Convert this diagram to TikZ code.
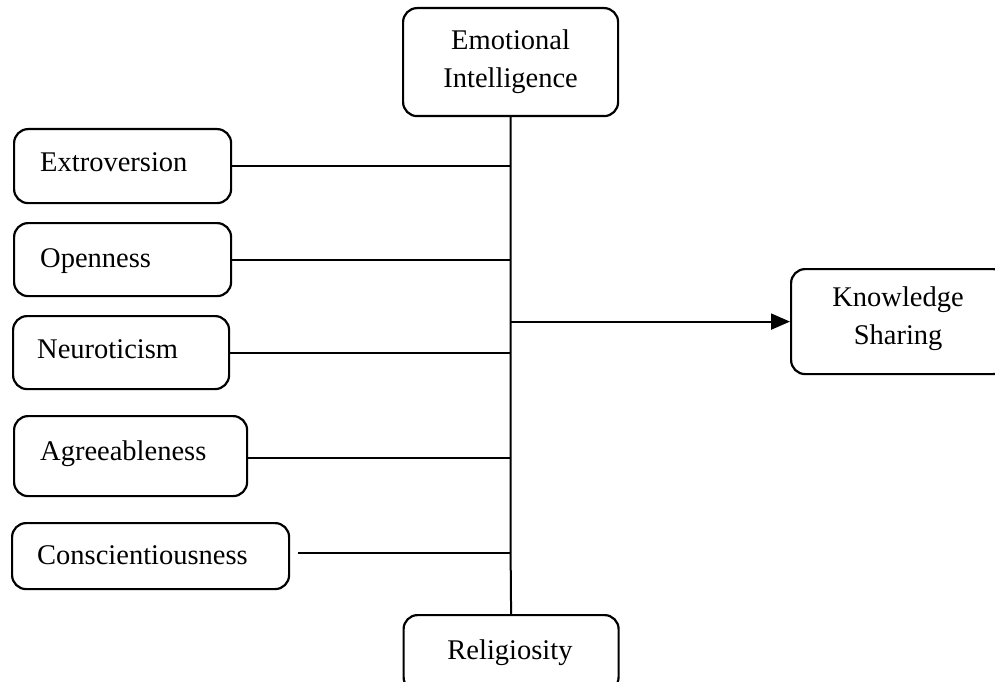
\documentclass[tikz,border=0pt]{standalone}
\usepackage{fontspec}
\setmainfont{Liberation Serif}
\usetikzlibrary{arrows.meta}
\begin{document}
\begin{tikzpicture}[x=1pt,y=-1pt,
  box/.style={draw, line width=2.2pt, rounded corners=14pt, anchor=north west, inner sep=0pt},
  ctext/.style={font=\fontsize{28.5}{38}\selectfont, align=center},
  lbl/.style={font=\fontsize{28.5}{35}\selectfont, inner sep=0pt, anchor=base west},
  link/.style={line width=2pt}]
\useasboundingbox (0,0) rectangle (995,682);

% boxes
\node[box, minimum width=215pt, minimum height=108pt] (ei) at (402,7) {};
\node[ctext] (eit) at (ei.center) {Emotional\\Intelligence};

\node[box, minimum width=217pt, minimum height=74pt] (ext) at (13,128) {};
\node[lbl] (extt) at (40,171) {Extroversion};

\node[box, minimum width=217pt, minimum height=73pt] (ope) at (13,222) {};
\node[lbl] (opet) at (40,267) {Openness};

\node[box, minimum width=216pt, minimum height=73pt] (neu) at (12,315) {};
\node[lbl] (neut) at (37,358) {Neuroticism};

\node[box, minimum width=233pt, minimum height=80pt] (agr) at (13,415) {};
\node[lbl] (agrt) at (40,460) {Agreeableness};

\node[box, minimum width=277pt, minimum height=66pt] (con) at (11,522) {};
\node[lbl] (cont) at (37,564) {Conscientiousness};

\node[box, minimum width=215pt, minimum height=76pt] (rel) at (402.5,614) {};
\node[ctext, anchor=base] (relt) at (510,659) {Religiosity};

\node[box, minimum width=216pt, minimum height=105pt] (ks) at (790,268) {};
\node[ctext] (kst) at ([xshift=-1pt,yshift=3pt]ks.center) {Knowledge\\Sharing};

% trunk
\coordinate (tc) at (ei.south |- 0,553);
\draw[link] (ei.south) -- (tc) -- (rel.north);

% connectors
\draw[link] (ext.east) -- (ext.east -| tc);
\draw[link] (ope.east) -- (ope.east -| tc);
\draw[link] (neu.east) -- (neu.east -| tc);
\draw[link] ([yshift=-2pt]agr.east) -- ([yshift=-2pt]agr.east -| tc);
\draw[link, shorten <=8pt] (con.east |- tc) -- (tc);

% arrow
\coordinate (j) at (tc |- ks.west);
\draw[link, -{Triangle[length=19pt,width=16pt]}] (j) -- (ks.west);
\end{tikzpicture}
\end{document}
